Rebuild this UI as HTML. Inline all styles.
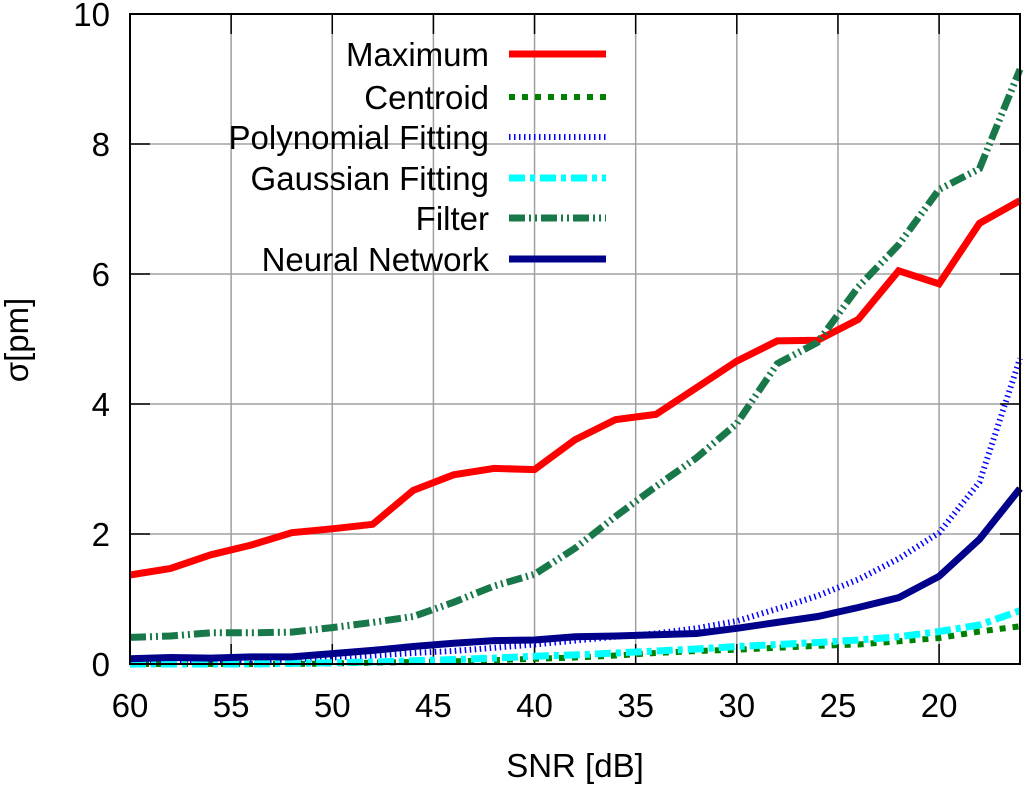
<!DOCTYPE html>
<html><head><meta charset="utf-8"><style>
html,body{margin:0;padding:0;background:#fff;}
svg text{font-family:"Liberation Sans",sans-serif;fill:#000;}
</style></head><body>
<svg id="chart" width="1024" height="785" viewBox="0 0 1024 785" xmlns="http://www.w3.org/2000/svg">
<g id="grid"></g>
<g id="axes"></g>
<g id="series"></g>
<rect x="130" y="14" width="890" height="650" fill="none" stroke="#000" stroke-width="2"/>
<text x="575" y="777" font-size="33" text-anchor="middle">SNR [dB]</text>
<text transform="translate(28,340) rotate(-90)" font-size="33" text-anchor="middle">σ[pm]</text>
<g id="legend"></g>
</svg>
<script>
const snr = [60,58,56,54,52,50,48,46,44,42,40,38,36,34,32,30,28,26,24,22,20,18,16];
const maximum = [1.37,1.47,1.68,1.83,2.02,2.08,2.15,2.67,2.91,3.01,2.99,3.45,3.76,3.84,4.25,4.66,4.97,4.98,5.3,6.05,5.85,6.78,7.13];
const centroid = [0,0,0,0,0,0.01,0.02,0.03,0.04,0.06,0.08,0.1,0.13,0.17,0.2,0.22,0.25,0.28,0.3,0.35,0.4,0.5,0.58];
const polynomial = [0.02,0.03,0.04,0.05,0.07,0.1,0.13,0.17,0.2,0.25,0.3,0.36,0.42,0.47,0.55,0.66,0.85,1.05,1.3,1.62,2.02,2.8,4.7];
const gaussian = [0,0,0,0,0.01,0.02,0.03,0.05,0.07,0.09,0.12,0.14,0.17,0.2,0.23,0.27,0.3,0.33,0.37,0.42,0.5,0.6,0.82];
const filter = [0.41,0.43,0.48,0.48,0.49,0.56,0.64,0.73,0.95,1.2,1.38,1.78,2.27,2.73,3.17,3.7,4.62,4.95,5.8,6.45,7.3,7.62,9.15];
const neural = [0.08,0.1,0.09,0.11,0.11,0.16,0.21,0.27,0.32,0.36,0.37,0.42,0.43,0.45,0.47,0.55,0.64,0.73,0.87,1.02,1.35,1.92,2.7];
const xTicks = [60,55,50,45,40,35,30,25,20];
const yTicks = [0,2,4,6,8,10];

const NS='http://www.w3.org/2000/svg';
const X0=130,X1=1020,Y0=664,Y1=14;
function xs(v){return X0+(60-v)/(60-16)*(X1-X0);}
function ys(v){return Y0-v/10*(Y0-Y1);}
function mk(tag,attrs,parent){const e=document.createElementNS(NS,tag);for(const k in attrs)e.setAttribute(k,attrs[k]);parent.appendChild(e);return e;}
const grid=document.getElementById('grid'),axes=document.getElementById('axes'),ser=document.getElementById('series'),leg=document.getElementById('legend');
xTicks.forEach(t=>{
  const x=xs(t);
  const g=mk('line',{x1:x,x2:x,y1:Y1,y2:Y0,stroke:'#a0a0a0','stroke-width':1.5},grid);
  
  
  mk('line',{x1:x,x2:x,y1:Y0,y2:Y0-20,stroke:'#000','stroke-width':1.5},axes);
  mk('line',{x1:x,x2:x,y1:Y1,y2:Y1+20,stroke:'#000','stroke-width':1.5},axes);
  const l=mk('text',{x:x,y:717,'font-size':33,'text-anchor':'middle'},axes);
  l.textContent=t;
  
  
});
yTicks.forEach(t=>{
  const y=ys(t);
  const g=mk('line',{x1:X0,x2:X1,y1:y,y2:y,stroke:'#a0a0a0','stroke-width':1.5},grid);
  
  
  mk('line',{x1:X0,x2:X0+20,y1:y,y2:y,stroke:'#000','stroke-width':1.5},axes);
  mk('line',{x1:X1,x2:X1-20,y1:y,y2:y,stroke:'#000','stroke-width':1.5},axes);
  const l=mk('text',{x:110,y:y+12,'font-size':33,'text-anchor':'end'},axes);
  l.textContent=t;
  
  
});
const defs=[
 {name:'Maximum',data:maximum,color:'#ff0000',w:7,dash:'none'},
 {name:'Centroid',data:centroid,color:'#008000',w:6,dash:'6 7'},
 {name:'Polynomial Fitting',data:polynomial,color:'#0000ff',w:6,dash:'1.5 3.5'},
 {name:'Gaussian Fitting',data:gaussian,color:'#00ffff',w:7,dash:'16 5 5 5'},
 {name:'Filter',data:filter,color:'#18784a',w:7,dash:'16 4 2 4 2 4'},
 {name:'Neural Network',data:neural,color:'#00008b',w:7,dash:'none'}
];
const legY=[54,97,137,178,218,259];
defs.forEach((d,i)=>{
  const pts=d.data.map((v,j)=>xs(snr[j]).toFixed(1)+','+ys(v).toFixed(1)).join(' ');
  const p=mk('polyline',{points:pts,fill:'none',stroke:d.color,'stroke-width':d.w,'stroke-dasharray':d.dash,'stroke-linejoin':'miter'},ser);
  
  
  const y=legY[i];
  const t=mk('text',{x:489,y:y+12,'font-size':33,'text-anchor':'end'},leg);
  t.textContent=d.name;
  
  
  mk('line',{x1:509,x2:606,y1:y,y2:y,stroke:d.color,'stroke-width':d.w,'stroke-dasharray':d.dash},leg);
});
</script>
</body></html>
